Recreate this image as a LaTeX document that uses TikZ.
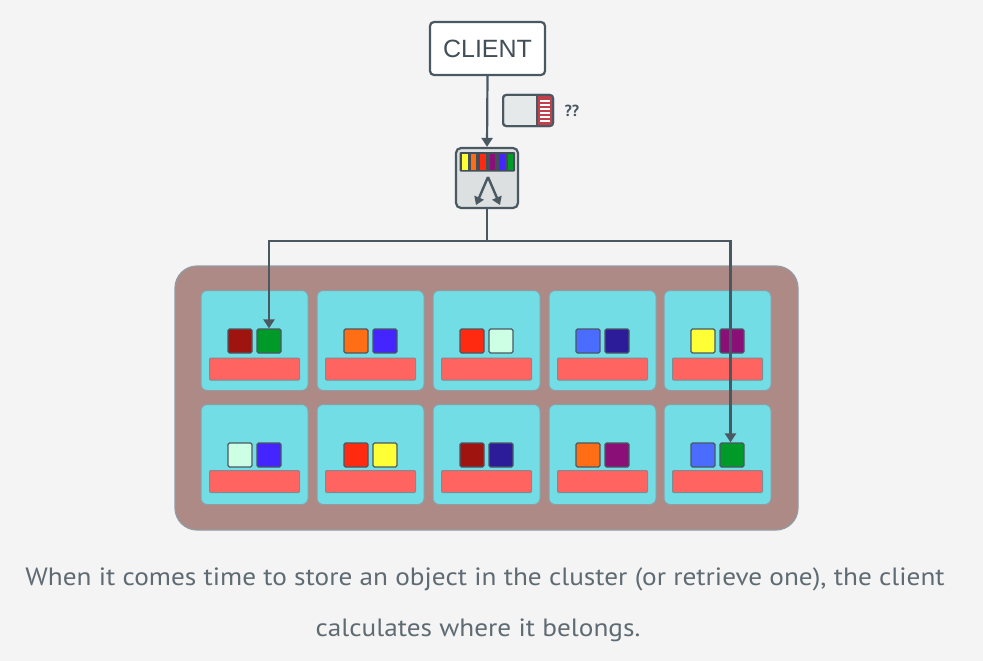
\documentclass[tikz,border=0pt]{standalone}
\usepackage{fontspec}
\setmainfont{PT Sans}
\newfontfamily\clientfont{Liberation Sans}
\usetikzlibrary{arrows.meta}
\definecolor{bg}{HTML}{F4F4F4}
\definecolor{edge}{HTML}{4A5862}
\definecolor{txt}{HTML}{5F6B73}
\definecolor{clus}{HTML}{AE8A87}
\definecolor{srv}{HTML}{72DDE5}
\definecolor{bar}{HTML}{FF6460}
\definecolor{cDR}{HTML}{A01410}
\definecolor{cG}{HTML}{009A28}
\definecolor{cO}{HTML}{FF6E14}
\definecolor{cB}{HTML}{4424FF}
\definecolor{cR}{HTML}{FF2A10}
\definecolor{cM}{HTML}{CCFFE4}
\definecolor{cLB}{HTML}{4A6CFF}
\definecolor{cN}{HTML}{2C1C9A}
\definecolor{cY}{HTML}{FFFF36}
\definecolor{cP}{HTML}{8A1078}
\definecolor{objred}{HTML}{C2404C}
\definecolor{objgray}{HTML}{E6E9E9}
\definecolor{rtfill}{HTML}{DCE0E0}
\tikzset{
  server/.style={draw=edge!60, line width=1pt, fill=srv, rounded corners=6pt, minimum width=107pt, minimum height=100pt, inner sep=0pt},
  sq/.style={draw=edge, line width=1.2pt, rounded corners=1.5pt, minimum width=24pt, minimum height=24pt, inner sep=0pt},
  barbox/.style={draw=edge!70, line width=1pt, fill=bar, rounded corners=1pt, minimum width=90pt, minimum height=22pt, inner sep=0pt},
  arr/.style={draw=edge, line width=2.2pt, -{Triangle[width=11pt,length=9pt]}},
  plain/.style={draw=edge, line width=2.2pt},
  captxt/.style={font=\fontsize{25}{28}\selectfont, text=txt},
}
\begin{document}
\begin{tikzpicture}[x=1pt,y=-1pt]
\fill[bg] (0,0) rectangle (983,661);
\useasboundingbox (0,0) rectangle (983,661);

% client
\node[draw=edge, line width=2.2pt, fill=white, rounded corners=4pt, minimum width=115pt, minimum height=53pt, inner sep=0pt, font=\clientfont\fontsize{25}{28}\selectfont, text=edge!90!black] (client) at (487.5,48.5) {CLIENT};

% object icon
\node[draw=edge, line width=2pt, fill=objgray, rounded corners=3pt, minimum width=50pt, minimum height=31pt, inner sep=0pt] (obj) at (528,110.5) {};
\fill[objred, rounded corners=2pt] (537,96) rectangle (552,125);
\fill[objred] (537,96) rectangle (542,125);
\foreach \yy in {100,104,108,112,116,120} \draw[white, line width=1.1pt] (540,\yy+1) -- (550,\yy+1);
\draw[edge, line width=2pt, rounded corners=3pt] (503,95) rectangle (553,126);
\draw[edge, line width=1.6pt] (537,95) -- (537,126);
\node[font=\bfseries\fontsize{16}{18}\selectfont, text=edge, anchor=west] (qq) at (561,111) {??};

% router
\node[draw=edge, line width=2.2pt, fill=rtfill, rounded corners=5pt, minimum width=62pt, minimum height=60pt, inner sep=0pt] (router) at (487,178) {};
\fill[edge!90!black, rounded corners=1pt] (459.5,152) rectangle (515,171.5);
\foreach \xx/\cc in {462/cY,470.5/cO,480/cR,489.5/cP,499/cB,507.5/cG} \fill[\cc] (\xx,154) rectangle (\xx+5.5,169.5);
\draw[edge, line width=2.4pt, -{Triangle[width=10pt,length=8pt]}] (488,177) -- (476,205);
\draw[edge, line width=2.4pt, -{Triangle[width=10pt,length=8pt]}] (488,177) -- (500,205);

% cluster
\draw[draw=edge!60, line width=1.2pt, fill=clus, rounded corners=22pt] (175,266) rectangle (798,530);

% servers
\foreach \i/\cx in {1/254.5,2/370.5,3/486.5,4/602.5,5/717.5}{
  \node[server] (sa\i) at (\cx,340.5) {};
  \node[server] (sb\i) at (\cx,454.5) {};
  \node[barbox] (ba\i) at (\cx,369) {};
  \node[barbox] (bb\i) at (\cx,481.5) {};
}
% squares row 1
\foreach \i/\cx/\ca/\cb in {1/254.5/cDR/cG,2/370.5/cO/cB,3/486.5/cR/cM,4/602.5/cLB/cN,5/717.5/cY/cP}{
  \node[sq, fill=\ca] (qa\i l) at (\cx-14.5,341) {};
  \node[sq, fill=\cb] (qa\i r) at (\cx+14.5,341) {};
}
% squares row 2
\foreach \i/\cx/\ca/\cb in {1/254.5/cM/cB,2/370.5/cR/cY,3/486.5/cDR/cN,4/602.5/cO/cP,5/717.5/cLB/cG}{
  \node[sq, fill=\ca] (qb\i l) at (\cx-14.5,455) {};
  \node[sq, fill=\cb] (qb\i r) at (\cx+14.5,455) {};
}

% connectors
\draw[arr] (client.south) -- (router.north);
\coordinate (split) at (487,241);
\draw[plain] (router.south) -- (split);
\draw[arr] (split) -| (qa1r.north);
\draw[arr] (split) -| ([xshift=-1.5pt]qb5r.north);

% caption
\node[captxt] (cap1) at (485,579) {\scalebox{1.09}[1]{When it comes time to store an object in the cluster (or retrieve one), the client}};
\node[captxt] (cap2) at (478,630) {\scalebox{1.09}[1]{calculates where it belongs.}};
\end{tikzpicture}
\end{document}
